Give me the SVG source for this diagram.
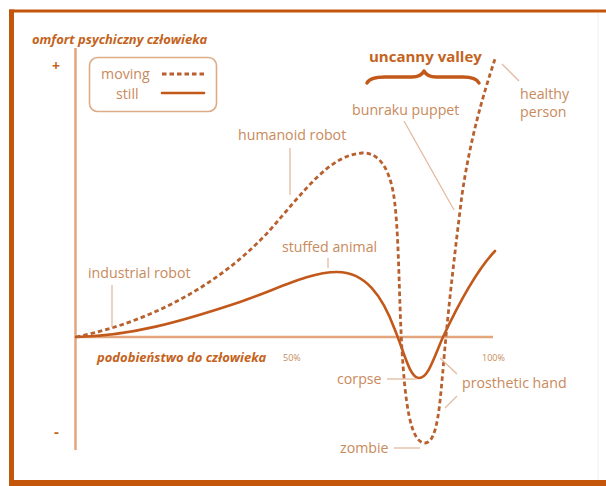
<svg xmlns="http://www.w3.org/2000/svg" width="606" height="486" viewBox="0 0 606 486">
<style>
.lbl{font-family:"Open Sans","Liberation Sans",sans-serif;font-size:14.2px;fill:#c98a5c}
.ttl{font-family:"Open Sans","Liberation Sans",sans-serif;font-size:13px;font-style:italic;font-weight:bold;fill:#c4631c}
.pct{font-family:"Open Sans","Liberation Sans",sans-serif;font-size:9px;fill:#c98a5c}
.lead{stroke:#e2bba0;stroke-width:1.3;fill:none}
.axis{stroke:#e3a67c;stroke-width:2.5;fill:none}
.still{stroke:#c2581a;stroke-width:2.6;fill:none;stroke-linecap:round}
.moving{stroke:#b8602e;stroke-width:2.8;fill:none;stroke-dasharray:4.5 3}
</style>
<rect x="0" y="0" width="606" height="486" fill="#ffffff"/>
<!-- frame -->
<g id="frame">
<rect x="9" y="9.5" width="597" height="3" fill="#c4560c"/>
<rect x="9" y="9.5" width="5" height="476" fill="#c4560c"/>
<rect x="9" y="480" width="597" height="6" fill="#c4560c"/>
<line x1="598" y1="13" x2="598" y2="480" stroke="#f6eee8" stroke-width="1"/>
</g>
<!-- axes -->
<g id="axes">
<line class="axis" x1="75.5" y1="48" x2="75.5" y2="450"/>
<line class="axis" x1="75" y1="337" x2="493" y2="337"/>
<text class="ttl" x="32" y="44">omfort psychiczny człowieka</text>
<text class="ttl" x="97" y="362">podobieństwo do człowieka</text>
<text class="pct" x="283" y="361">50%</text>
<text class="pct" x="482" y="361">100%</text>
<text x="52" y="71" style="font-family:'Open Sans',sans-serif;font-size:14px;font-weight:bold;fill:#c4631c">+</text>
<text x="54" y="437" style="font-family:'Open Sans',sans-serif;font-size:15px;font-weight:bold;fill:#c4631c">-</text>
</g>
<!-- legend -->
<g id="legend">
<rect x="89.5" y="57.5" width="127" height="54" rx="8" fill="none" stroke="#dcac88" stroke-width="1.6"/>
<text class="lbl" x="101" y="79">moving</text>
<text class="lbl" x="116" y="99">still</text>
<line class="moving" x1="162" y1="74" x2="205" y2="74"/>
<line class="still" x1="162" y1="93" x2="204" y2="93" stroke-width="1.6"/>
</g>
<!-- uncanny valley -->
<g id="uncanny-valley">
<text x="369" y="62" style="font-family:'Open Sans',sans-serif;font-size:15px;font-weight:bold;fill:#c4631c">uncanny valley</text>
<path d="M367,83 Q370,77 385,77 L412,77 Q421,77 424,71 Q427,77 436,77 L463,77 Q476,77 479,83" fill="none" stroke="#c2581a" stroke-width="3.5" stroke-linecap="round" stroke-linejoin="round"/>
</g>
<!-- curves -->
<g id="connectors">
<path id="still-curve" class="still" d="M76,337 C130,336 180,322 240,302 C280,288 310,272 337,272 C365,272 382,295 395,330 C405,355 410,378 419,378 C428,378 433,360 443,337 C458,305 475,272 495,251"/>
<path id="moving-curve" class="moving" d="M76,337 C150,322 220,285 270,230 C305,190 330,155 362,153 C382,152 392,175 395,205 C399,240 399,300 402,350 C405,400 410,443 425,443 C438,443 440,400 443,370 C447,320 455,250 462,195 C470,140 483,95 495,59"/>
<!-- leader lines -->
<line class="lead" x1="112" y1="285" x2="112" y2="327"/>
<line class="lead" x1="290" y1="148" x2="290" y2="195"/>
<line class="lead" x1="328" y1="258" x2="328" y2="268"/>
<line class="lead" x1="404" y1="121" x2="454" y2="210"/>
<line class="lead" x1="502" y1="64" x2="519" y2="81"/>
<line class="lead" x1="387" y1="379" x2="417" y2="379"/>
<line class="lead" x1="440" y1="358" x2="457" y2="374"/>
<line class="lead" x1="445" y1="408" x2="457" y2="396"/>
<line class="lead" x1="394" y1="448" x2="420" y2="448"/>
</g>
<!-- labels -->
<g id="industrial-robot"><text class="lbl" x="88" y="278">industrial robot</text></g>
<g id="humanoid-robot"><text class="lbl" x="238" y="140">humanoid robot</text></g>
<g id="stuffed-animal"><text class="lbl" x="282" y="252">stuffed animal</text></g>
<g id="bunraku-puppet"><text class="lbl" x="352" y="115">bunraku puppet</text></g>
<g id="healthy-person"><text class="lbl" x="520" y="99">healthy</text><text class="lbl" x="520" y="117">person</text></g>
<g id="corpse"><text class="lbl" x="337" y="384">corpse</text></g>
<g id="prosthetic-hand"><text class="lbl" x="462" y="388">prosthetic hand</text></g>
<g id="zombie"><text class="lbl" x="340" y="453">zombie</text></g>
</svg>
